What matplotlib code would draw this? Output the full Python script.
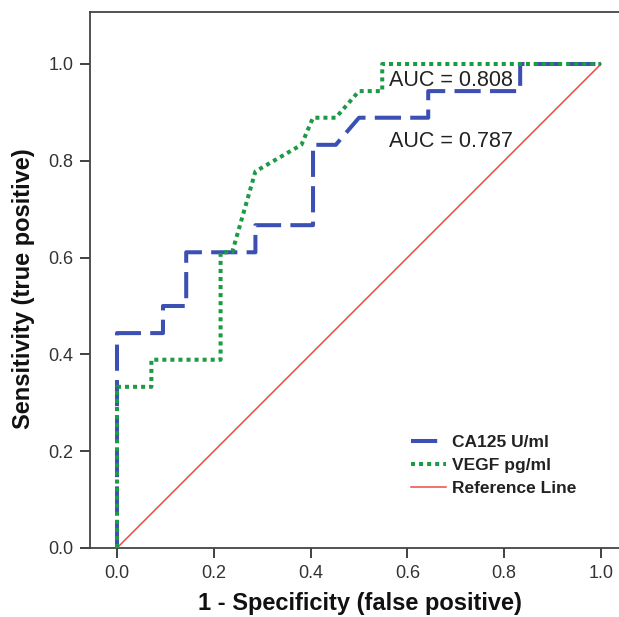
import matplotlib
matplotlib.use("Agg")
import matplotlib.pyplot as plt

# ROC curve points (1 - specificity, sensitivity)
ca125_fpr = [0, 0, 0.095, 0.095, 0.143, 0.143, 0.286, 0.286, 0.405, 0.405,
             0.452, 0.5, 0.643, 0.643, 0.833, 0.833, 1.0]
ca125_tpr = [0, 0.444, 0.444, 0.5, 0.5, 0.611, 0.611, 0.667, 0.667, 0.833,
             0.833, 0.889, 0.889, 0.944, 0.944, 1.0, 1.0]

vegf_fpr = [0, 0, 0.071, 0.071, 0.214, 0.214, 0.238, 0.286, 0.381, 0.405,
            0.452, 0.5, 0.548, 0.548, 1.0]
vegf_tpr = [0, 0.333, 0.333, 0.389, 0.389, 0.611, 0.611, 0.778, 0.833, 0.889,
            0.889, 0.944, 0.944, 1.0, 1.0]

ref_x = [0, 1]
ref_y = [0, 1]

labels = ["CA125 U/ml", "VEGF pg/ml", "Reference Line"]
auc_texts = ["AUC = 0.808", "AUC = 0.787"]
ticks = [0.0, 0.2, 0.4, 0.6, 0.8, 1.0]

plt.rcParams["font.family"] = ["Liberation Sans", "DejaVu Sans"]

W, H = 619, 617
fig = plt.figure(figsize=(W / 100, H / 100), dpi=100)

# axes box in pixels: left 90, top 11.5, bottom 548, right off canvas
px_unit = 484.0
left_px, top_px, bottom_px = 90, 11.5, 548
x0 = -(117 - left_px) / px_unit
x1 = 1.06
y1 = (bottom_px - top_px) / px_unit
ax_w = (x1 - x0) * px_unit
ax_h = bottom_px - top_px
ax = fig.add_axes([left_px / W, (H - bottom_px) / H, ax_w / W, ax_h / H])
ax.set_xlim(x0, x1)
ax.set_ylim(0, y1)

blue = "#3b50b2"
green = "#1c9a45"
red = "#ee4a43"

ax.plot(ca125_fpr, ca125_tpr, color=blue, lw=2.9, dashes=(6.5, 2.3),
        dash_capstyle="butt", label=labels[0], zorder=3)
ax.plot(vegf_fpr, vegf_tpr, color=green, lw=2.9, dashes=(1, 1),
        dash_capstyle="butt", label=labels[1], zorder=3)
ax.plot(ref_x, ref_y, color=red, lw=1.1, label=labels[2], zorder=2)

ax.text(0.562, 0.966, auc_texts[0], fontsize=15.5, va="center", ha="left",
        color="#222222", zorder=4)
ax.text(0.562, 0.839, auc_texts[1], fontsize=15.5, va="center", ha="left",
        color="#222222", zorder=4)

for s in ["top", "left", "bottom"]:
    ax.spines[s].set_color("#444444")
    ax.spines[s].set_linewidth(1.3)
ax.spines["right"].set_visible(False)

ax.set_xticks(ticks)
ax.set_yticks(ticks)
ax.set_xticklabels([f"{t:.1f}" for t in ticks])
ax.set_yticklabels([f"{t:.1f}" for t in ticks])
ax.tick_params(direction="out", length=7, width=1.3, color="#333333",
               labelsize=13, labelcolor="#333333")
ax.tick_params(axis="x", pad=5.5)
ax.tick_params(axis="y", pad=5)

ax.set_xlabel("1 - Specificity (false positive)", fontsize=17,
              fontweight="bold", color="#111111")
ax.set_ylabel("Sensitivity (true positive)", fontsize=17,
              fontweight="bold", color="#111111")
ax.xaxis.set_label_coords((360 - left_px) / ax_w, -44 / ax_h)
ax.yaxis.set_label_coords((35 - left_px) / ax_w, (bottom_px - 289) / ax_h)

leg = ax.legend(loc="upper left", bbox_to_anchor=(411 / W, (H - 435) / H),
                bbox_transform=fig.transFigure, frameon=False, fontsize=12.5,
                handlelength=2.0, handletextpad=0.35, labelspacing=0.46,
                borderaxespad=0, borderpad=0)
for t in leg.get_texts():
    t.set_fontweight("bold")
    t.set_color("#222222")

fig.savefig("out.png", dpi=100)
